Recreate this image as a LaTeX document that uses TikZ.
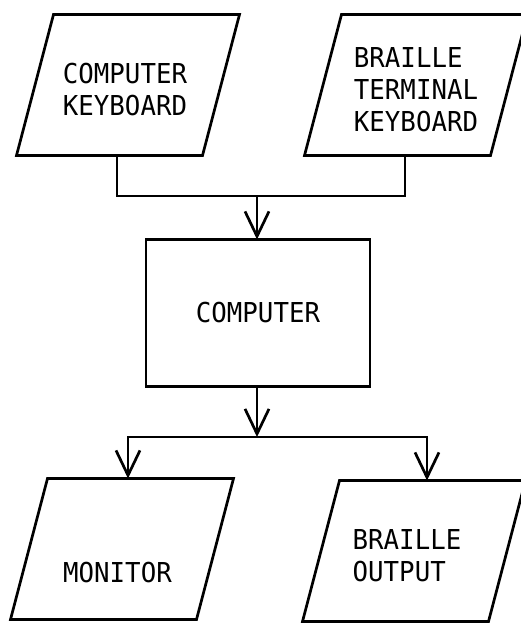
\documentclass[tikz,border=0pt]{standalone}
\usepackage{fontspec}
\newfontfamily\typefont[FakeStretch=0.94]{DejaVu Sans Mono}
\usetikzlibrary{arrows.meta}

\begin{document}
\begin{tikzpicture}[x=1pt, y=-1pt, line width=2.7pt,
              para/.style={rectangle, minimum width=186pt, minimum height=141pt,
              inner sep=0pt, outer sep=0pt},
              txt/.style={align=left, inner sep=0pt, yshift=-4.5pt,
              font=\typefont\fontsize{27.4}{32}\selectfont},
              box/.style={draw, rectangle, minimum width=224pt, outer sep=0pt,
              minimum height=147pt, font=\typefont\fontsize{27.4}{32}\selectfont},
              arr/.style={-{Straight Barb[length=25pt,width=24pt]}}]
                \useasboundingbox (0,0) rectangle (521,623);
                \node[para, label={[txt, xshift=-3pt]center:COMPUTER\\KEYBOARD}] (kbd) at (128,85) {};
                \node[para, label={[txt]center:BRAILLE\\TERMINAL\\KEYBOARD}] (bkbd) at (416,85) {};
                \node[box] (comp) at (258,313) {COMPUTER};
                \node[para, label={[txt, xshift=-4.5pt, yshift=-19pt]center:MONITOR}] (mon) at (122,549) {};
                \node[para, label={[txt, xshift=-7pt]center:BRAILLE\\OUTPUT}] (bout) at (414,551) {};
                \foreach \n in {kbd,bkbd,mon,bout}{
                    \draw ([xshift=18.5pt]\n.north west) -- ([xshift=18.5pt]\n.north east)
                        -- ([xshift=-18.5pt]\n.south east) -- ([xshift=-18.5pt]\n.south west) -- cycle;
                };
                \coordinate (merge) at (257,196);
                \coordinate (split) at (257,437);
                \draw ([xshift=-11pt]kbd.south) |- (merge) -| ([xshift=-11pt]bkbd.south);
                \draw[arr] (merge) -- (merge |- comp.north);
                \draw[arr] (comp.south -| split) -- (split);
                \draw[arr] (split) -| ([xshift=6pt]mon.north);
                \draw[arr] (split) -| ([xshift=13pt]bout.north);
            \end{tikzpicture}
\end{document}
